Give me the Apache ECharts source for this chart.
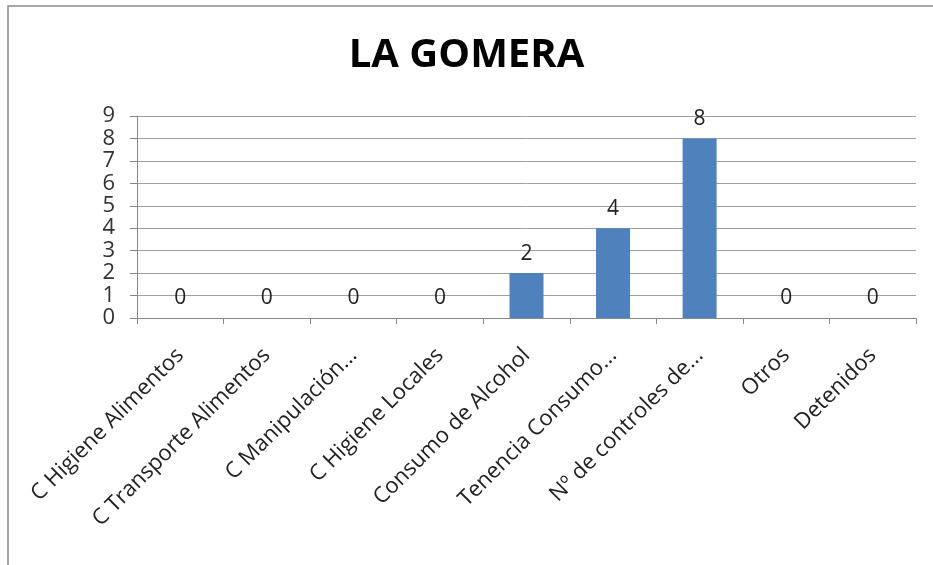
<!DOCTYPE html>
<html><head><meta charset="utf-8">
<style>html,body{margin:0;padding:0;background:#fff}#c{width:933px;height:565px}</style>
<script src="https://cdn.jsdelivr.net/npm/echarts@6/dist/echarts.min.js"></script>
</head><body><div id="c"></div>
<script>
const titleText = "LA GOMERA";
const categories = ["C Higiene Alimentos","C Transporte Alimentos","C Manipulación...","C Higiene Locales","Consumo de Alcohol","Tenencia Consumo...","Nº de controles de...","Otros","Detenidos"];
const values = [0,0,0,0,2,4,8,0,0];
const yTicks = [0,1,2,3,4,5,6,7,8,9];

const chart = echarts.init(document.getElementById('c'), null, {renderer:'canvas'});
const font = "'Open Sans', 'Noto Sans', sans-serif";
chart.setOption({
  animation:false,
  backgroundColor:'#fff',
  graphic:[{type:'rect',shape:{x:8,y:6,width:960,height:600},style:{fill:'none',stroke:'#8c8c8c',lineWidth:1.5},silent:true}],
  title:{text:titleText,left:'center',top:31,textStyle:{fontFamily:font,fontSize:40,fontWeight:'bold',color:'#000'}},
  grid:{left:137,right:17,top:116,bottom:247},
  xAxis:{type:'category',data:categories,
    axisLine:{lineStyle:{color:'#888',width:1}},
    axisTick:{show:true,length:6,lineStyle:{color:'#888'}},
    axisLabel:{rotate:45,interval:0,fontFamily:font,fontSize:22,color:'#222',margin:34}},
  yAxis:{type:'value',min:yTicks[0],max:yTicks[yTicks.length-1],interval:1,
    axisLine:{show:true,lineStyle:{color:'#888',width:1}},
    axisTick:{show:true,length:7,lineStyle:{color:'#888'}},
    splitLine:{lineStyle:{color:'#a0a0a0',width:1}},
    axisLabel:{fontFamily:font,fontSize:22,color:'#333',margin:22}},
  series:[{type:'bar',data:values,barWidth:34,itemStyle:{color:'#4f81bd'},
    label:{show:true,position:'top',distance:9,fontFamily:font,fontSize:21,color:'#222'}}]
});
</script></body></html>
